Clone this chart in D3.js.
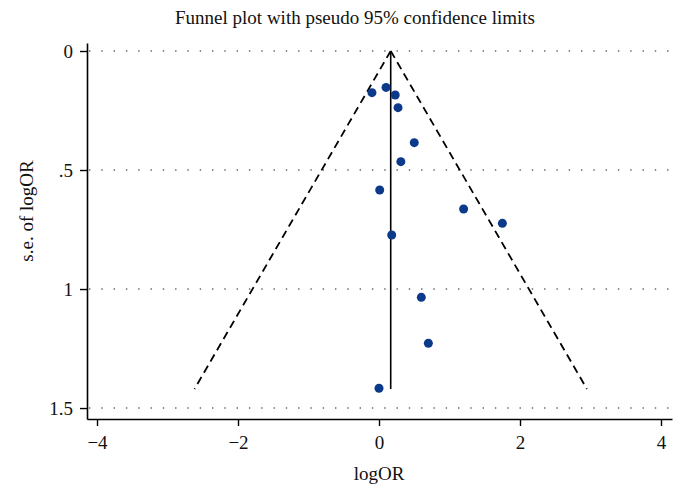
<!DOCTYPE html>
<html><head><meta charset="utf-8">
<script src="https://cdn.jsdelivr.net/npm/d3@7"></script>
<style>body{margin:0;background:#fff}text{font-family:"Liberation Serif","DejaVu Serif",serif;fill:#111}</style>
</head><body>
<svg id="c" width="686" height="501"></svg>
<script>
const logOR = [-0.10, 0.10, 0.23, 0.27, 0.50, 0.31, 0.01, 1.20, 1.75, 0.18, 0.60, 0.70, 0.00];
const seLogOR = [0.175, 0.153, 0.185, 0.238, 0.385, 0.465, 0.584, 0.664, 0.724, 0.773, 1.035, 1.228, 1.417];
const pooled = 0.166;
const maxSE = 1.42;
const xTicks = [-4, -2, 0, 2, 4];
const yTicks = [0, 0.5, 1, 1.5];
const yTickLabels = ["0", ".5", "1", "1.5"];
const title = "Funnel plot with pseudo 95% confidence limits";

const svg = d3.select("#c");
const x = d3.scaleLinear().domain([-4.142, 4.156]).range([87, 672]);
const y = d3.scaleLinear().domain([-0.0336, 1.546]).range([43, 419]);

// gridlines
svg.append("g").selectAll("line").data(yTicks).join("line")
  .attr("x1", 89).attr("x2", 672)
  .attr("y1", d => y(d)).attr("y2", d => y(d))
  .attr("stroke", "#666").attr("stroke-width", 1.6)
  .attr("stroke-dasharray", "1.4,10.9");

// axes
const xa = svg.append("g").attr("transform", "translate(0,419)")
  .call(d3.axisBottom(x).tickValues(xTicks).tickSize(7).tickSizeOuter(0)
    .tickFormat(d => d < 0 ? "\u2212" + Math.abs(d) : String(d)));
xa.select(".domain").attr("stroke", "#000").attr("stroke-width", 1.6);
xa.selectAll(".tick line").attr("stroke", "#000").attr("stroke-width", 1.4);
xa.selectAll("text").attr("font-size", 19).attr("dy", "1.05em").style("font-family", "Liberation Serif");

const ya = svg.append("g").attr("transform", "translate(87,0)")
  .call(d3.axisLeft(y).tickValues(yTicks).tickSize(7).tickSizeOuter(0)
    .tickFormat((d, i) => yTickLabels[i]));
ya.select(".domain").attr("stroke", "#000").attr("stroke-width", 1.6);
ya.selectAll(".tick line").attr("stroke", "#000").attr("stroke-width", 1.4);
ya.selectAll("text").attr("font-size", 19).attr("x", -14).style("font-family", "Liberation Serif");

// funnel lines
const lo = pooled - 1.96 * maxSE, hi = pooled + 1.96 * maxSE;
[[lo], [hi]].forEach(([end]) => {
  svg.append("line")
    .attr("x1", x(pooled)).attr("y1", y(0))
    .attr("x2", x(end)).attr("y2", y(maxSE))
    .attr("stroke", "#000").attr("stroke-width", 1.8)
    .attr("stroke-dasharray", "8,5");
});
svg.append("line")
  .attr("x1", x(pooled)).attr("x2", x(pooled))
  .attr("y1", y(0)).attr("y2", y(maxSE))
  .attr("stroke", "#000").attr("stroke-width", 1.6);

// points
svg.append("g").selectAll("circle").data(logOR.map((v, i) => [v, seLogOR[i]])).join("circle")
  .attr("cx", d => x(d[0])).attr("cy", d => y(d[1])).attr("r", 4.5)
  .attr("fill", "#0c3a8a");

// titles
svg.append("text").attr("x", 355).attr("y", 24).attr("text-anchor", "middle")
  .attr("font-size", 19).text(title);
svg.append("text").attr("x", 379).attr("y", 480).attr("text-anchor", "middle")
  .attr("font-size", 19).text("logOR");
svg.append("text").attr("transform", "translate(33,211) rotate(-90)").attr("text-anchor", "middle")
  .attr("font-size", 19).text("s.e. of logOR");
</script>
</body></html>
